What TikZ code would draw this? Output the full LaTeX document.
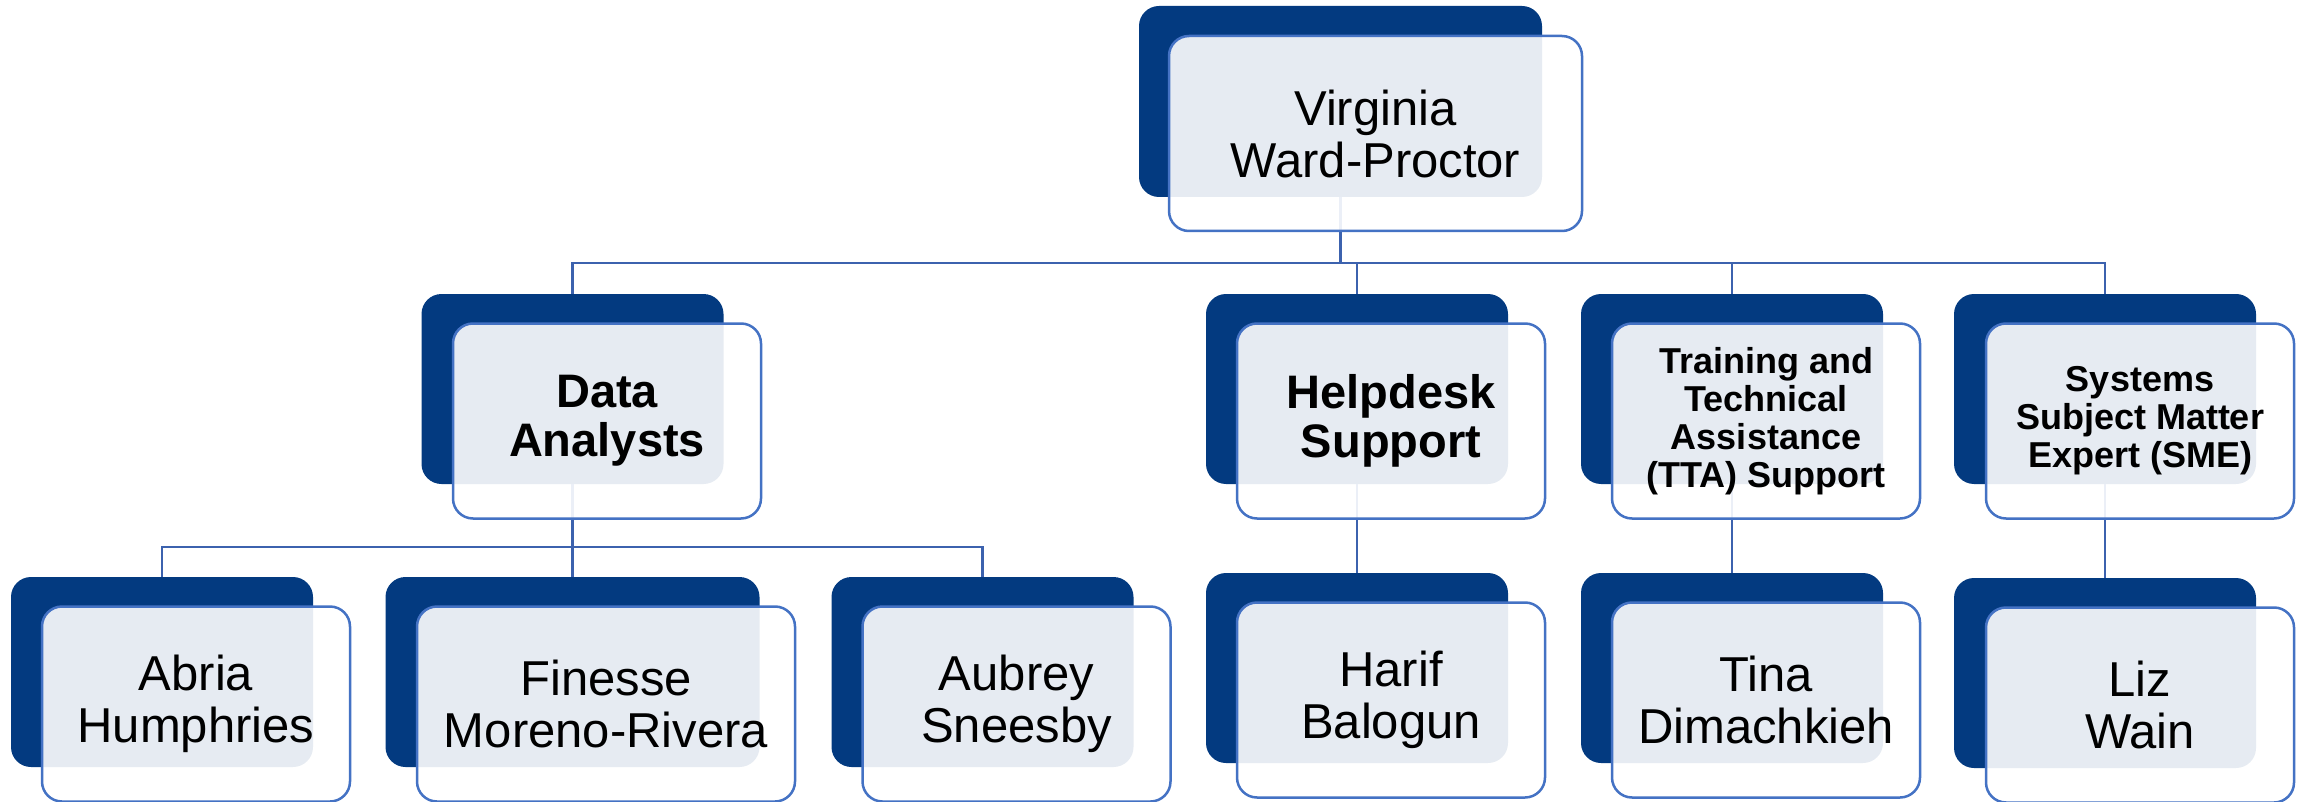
\documentclass[tikz,border=0pt]{standalone}
\usepackage{fontspec}
\setmainfont{Liberation Sans}
\usetikzlibrary{positioning}

\definecolor{navy}{HTML}{033A80}
\definecolor{edgeblue}{HTML}{4472C4}
\definecolor{linkblue}{HTML}{3C62AE}

\begin{document}
\begin{tikzpicture}[x=1pt,y=-1pt,
    back/.style={fill=navy, rounded corners=20pt, minimum width=302pt, minimum height=190pt, inner sep=0pt},
    front/.style={draw=edgeblue, line width=2.5pt, fill=white, fill opacity=0.9, text opacity=1,
      rounded corners=20pt, minimum width=308pt, minimum height=195pt, align=center, inner sep=0pt},
    person/.style={front, font=\fontsize{49}{52}\selectfont},
    team/.style={front, font=\fontsize{47}{49}\selectfont\bfseries},
    teamsmall/.style={front, font=\fontsize{36}{38}\selectfont\bfseries},
    link/.style={draw=linkblue, line width=2.5pt}]
    \useasboundingbox (0,0) rectangle (2306,802);

    % dark backing blocks
    \node[back, minimum width=403pt, minimum height=191pt] (vw-b) at (1340.5,101.5) {};
    \node[back] (da-b) at (572.5,389) {};
    \node[back] (hd-b) at (1357,389) {};
    \node[back] (tta-b) at (1732,389) {};
    \node[back] (sme-b) at (2105,389) {};
    \node[back] (ah-b) at (162,672) {};
    \node[back, minimum width=374pt] (fm-b) at (572.5,672) {};
    \node[back] (as-b) at (982.5,672) {};
    \node[back] (hb-b) at (1357,668) {};
    \node[back] (td-b) at (1732,668) {};
    \node[back] (sme2-b) at (2105,673) {};

    % connectors
    \coordinate (bus1) at (0,263);
    \coordinate (bus2) at (0,547);
    \foreach \c in {da,hd,tta,sme}
        \draw[link] (vw-b.south) -- (vw-b.south |- bus1) -| (\c-b.north);
    \foreach \c in {ah,fm,as}
        \draw[link] (da-b.south) -- (da-b.south |- bus2) -| (\c-b.north);
    \draw[link] (hd-b.south) -- (hb-b.north);
    \draw[link] (tta-b.south) -- (td-b.north);
    \draw[link] (sme-b.south) -- (sme2-b.north);

    % light boxes with the texts
    \node[person, minimum width=413pt] (vw) at (1375.5,133.5) {Virginia\\Ward-Proctor};
    \node[team] (da) at (607,421) {Data\\Analysts};
    \node[team] (hd) at (1391,421) {Helpdesk\\Support};
    \node[teamsmall] (tta) at (1766,421) {Training and\\Technical\\Assistance\\(TTA) Support};
    \node[teamsmall] (sme) at (2140,421) {Systems\\Subject Matter\\Expert (SME)};
    \node[person] (ah) at (196,704) {Abria\\Humphries};
    \node[person, minimum width=378pt] (fm) at (606,704) {Finesse\\Moreno-Rivera};
    \node[person] (as) at (1016.5,704) {Aubrey\\Sneesby};
    \node[person] (hb) at (1391,700) {Harif\\Balogun};
    \node[person] (td) at (1766,700) {Tina\\Dimachkieh};
    \node[person] (lw) at (2140,705) {Liz\\Wain};
\end{tikzpicture}
\end{document}
